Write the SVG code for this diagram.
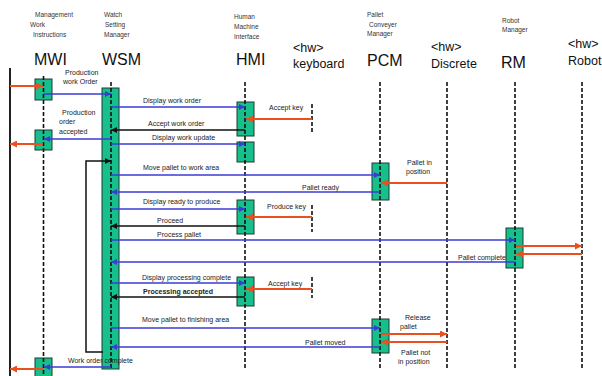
<svg xmlns="http://www.w3.org/2000/svg" width="602" height="376" viewBox="0 0 602 376">
<style>
text{font-family:"Liberation Sans",Arial,sans-serif;fill:#222}
.h{font-size:6.5px;fill:#333}
.big{font-size:16px;fill:#111}
.hw{font-size:12.5px;fill:#111}
.m{font-size:7px;fill:#222}
.life{stroke:#111;stroke-width:1.6;stroke-dasharray:4 2;fill:none}
.box{fill:#17bf8c;stroke:#1f3b30;stroke-width:1}
.b{stroke:#3b3bd6;stroke-width:1.5;fill:none}
.k{stroke:#111;stroke-width:1.5;fill:none}
.o{stroke:#ea4f1f;stroke-width:2;fill:none}
</style>
<defs>
<marker id="ab" viewBox="0 0 10 10" refX="10" refY="5" markerWidth="7" markerHeight="6" orient="auto" markerUnits="userSpaceOnUse"><path d="M0,0 L10,5 L0,10 z" fill="#3b3bd6"/></marker>
<marker id="ak" viewBox="0 0 10 10" refX="10" refY="5" markerWidth="7" markerHeight="6" orient="auto" markerUnits="userSpaceOnUse"><path d="M0,0 L10,5 L0,10 z" fill="#111"/></marker>
<marker id="ao" viewBox="0 0 10 10" refX="10" refY="5" markerWidth="8" markerHeight="7" orient="auto" markerUnits="userSpaceOnUse"><path d="M0,0 L10,5 L0,10 z" fill="#ea4f1f"/></marker>
</defs>
<rect width="602" height="376" fill="#fff"/>
<line x1="10" y1="68" x2="10" y2="376" stroke="#222" stroke-width="2"/>

<g id="MWI">
<text class="h" x="35" y="17">Management</text>
<text class="h" x="30" y="27">Work</text>
<text class="h" x="33" y="37">Instructions</text>
<text class="big" x="34" y="65">MWI</text>
<rect class="box" x="35" y="79" width="17" height="21"/>
<rect class="box" x="35" y="130" width="17" height="20"/>
<rect class="box" x="35" y="358" width="17" height="20"/>
<line class="life" x1="43.5" y1="76" x2="43.5" y2="376"/>
</g>

<g id="WSM">
<text class="h" x="104" y="17">Watch</text>
<text class="h" x="105" y="27">Setting</text>
<text class="h" x="104" y="37">Manager</text>
<text class="big" x="102" y="65">WSM</text>
<rect class="box" x="102" y="88" width="17" height="281"/>
<line class="life" x1="111" y1="82" x2="111" y2="370"/>
</g>

<g id="HMI">
<text class="h" x="234" y="19">Human</text>
<text class="h" x="234" y="29">Machine</text>
<text class="h" x="234" y="39">Interface</text>
<text class="big" x="236" y="65">HMI</text>
<rect class="box" x="237" y="102" width="17" height="34"/>
<rect class="box" x="237" y="142" width="17" height="20"/>
<rect class="box" x="237" y="200" width="17" height="34"/>
<rect class="box" x="237" y="277" width="17" height="29"/>
<line class="life" x1="245" y1="82" x2="245" y2="368"/>
</g>

<g id="keyboard">
<text class="hw" x="293" y="52">&lt;hw&gt;</text>
<text class="hw" x="293" y="68">keyboard</text>
<line class="life" x1="312" y1="104" x2="312" y2="132"/>
<line class="life" x1="312" y1="205" x2="312" y2="232"/>
<line class="life" x1="312" y1="277" x2="312" y2="298"/>
</g>

<g id="PCM">
<text class="h" x="367" y="17">Pallet</text>
<text class="h" x="369" y="27">Conveyer</text>
<text class="h" x="367" y="36">Manager</text>
<text class="big" x="367" y="66">PCM</text>
<rect class="box" x="372" y="163" width="17" height="37"/>
<rect class="box" x="372" y="319" width="17" height="34"/>
<line class="life" x1="380" y1="82" x2="380" y2="370"/>
</g>

<g id="Discrete">
<text class="hw" x="431" y="51">&lt;hw&gt;</text>
<text class="hw" x="431" y="68">Discrete</text>
<line class="life" x1="447" y1="82" x2="447" y2="370"/>
</g>

<g id="RM">
<text class="h" x="502" y="23">Robot</text>
<text class="h" x="502" y="32">Manager</text>
<text class="big" x="501" y="68">RM</text>
<rect class="box" x="506" y="228" width="17" height="40"/>
<line class="life" x1="515" y1="82" x2="515" y2="370"/>
</g>

<g id="Robot">
<text class="hw" x="568" y="48">&lt;hw&gt;</text>
<text class="hw" x="568" y="65">Robot</text>
<line class="life" x1="582" y1="82" x2="582" y2="370"/>
</g>

<g id="connectors">
<line class="o" x1="10" y1="86" x2="43" y2="86" marker-end="url(#ao)"/>
<text class="m" x="65" y="75">Production</text>
<text class="m" x="63" y="84">work Order</text>
<line class="b" x1="44" y1="94" x2="111" y2="94" marker-end="url(#ab)"/>

<text class="m" x="143" y="103">Display work order</text>
<line class="b" x1="111" y1="107" x2="245" y2="107" marker-end="url(#ab)"/>
<text class="m" x="269" y="110">Accept key</text>
<line class="o" x1="312" y1="119" x2="246" y2="119" marker-end="url(#ao)"/>
<text class="m" x="148" y="126">Accept work order</text>
<line class="k" x1="245" y1="130" x2="111" y2="130" marker-end="url(#ak)"/>

<text class="m" x="62" y="115">Production</text>
<text class="m" x="59" y="124">order</text>
<text class="m" x="59" y="134">accepted</text>
<line class="b" x1="111" y1="139" x2="44" y2="139" marker-end="url(#ab)"/>
<line class="o" x1="43" y1="144" x2="10" y2="144" marker-end="url(#ao)"/>
<text class="m" x="152" y="140">Display work update</text>
<line class="b" x1="111" y1="144" x2="245" y2="144" marker-end="url(#ab)"/>

<polyline class="k" points="103,352 86,352 86,161 111,161" marker-end="url(#ak)"/>

<text class="m" x="143" y="170">Move pallet to work area</text>
<line class="b" x1="111" y1="175" x2="380" y2="175" marker-end="url(#ab)"/>
<text class="m" x="407" y="165">Pallet in</text>
<text class="m" x="406" y="174">position</text>
<line class="o" x1="447" y1="183" x2="381" y2="183" marker-end="url(#ao)"/>
<text class="m" x="302" y="190">Pallet ready</text>
<line class="b" x1="380" y1="192" x2="111" y2="192" marker-end="url(#ab)"/>

<text class="m" x="143" y="204">Display ready to produce</text>
<line class="b" x1="111" y1="209" x2="245" y2="209" marker-end="url(#ab)"/>
<text class="m" x="267" y="209">Produce key</text>
<line class="o" x1="312" y1="217" x2="246" y2="217" marker-end="url(#ao)"/>
<text class="m" x="157" y="223">Proceed</text>
<line class="k" x1="245" y1="226" x2="111" y2="226" marker-end="url(#ak)"/>

<text class="m" x="157" y="237">Process pallet</text>
<line class="b" x1="111" y1="240" x2="515" y2="240" marker-end="url(#ab)"/>
<line class="o" x1="516" y1="246" x2="582" y2="246" marker-end="url(#ao)"/>
<line class="o" x1="582" y1="254" x2="516" y2="254" marker-end="url(#ao)"/>
<text class="m" x="458" y="260">Pallet complete</text>
<line class="b" x1="515" y1="262" x2="111" y2="262" marker-end="url(#ab)"/>

<text class="m" x="142" y="280">Display processing complete</text>
<line class="b" x1="111" y1="283" x2="245" y2="283" marker-end="url(#ab)"/>
<text class="m" x="268" y="286">Accept key</text>
<line class="o" x1="312" y1="289" x2="246" y2="289" marker-end="url(#ao)"/>
<text class="m" x="143" y="294" font-weight="bold">Processing accepted</text>
<line class="k" x1="245" y1="297" x2="111" y2="297" marker-end="url(#ak)"/>

<text class="m" x="142" y="322">Move pallet to finishing area</text>
<line class="b" x1="111" y1="328" x2="380" y2="328" marker-end="url(#ab)"/>
<text class="m" x="405" y="320">Release</text>
<text class="m" x="400" y="329">pallet</text>
<line class="o" x1="381" y1="334" x2="447" y2="334" marker-end="url(#ao)"/>
<line class="o" x1="447" y1="342" x2="381" y2="342" marker-end="url(#ao)"/>
<text class="m" x="401" y="355">Pallet not</text>
<text class="m" x="398" y="364">in position</text>
<text class="m" x="305" y="345">Pallet moved</text>
<line class="b" x1="380" y1="347" x2="111" y2="347" marker-end="url(#ab)"/>

<text class="m" x="68" y="363">Work order complete</text>
<line class="b" x1="111" y1="367" x2="44" y2="367" marker-end="url(#ab)"/>
<line class="o" x1="43" y1="369" x2="10" y2="369" marker-end="url(#ao)"/>
</g>
</svg>
